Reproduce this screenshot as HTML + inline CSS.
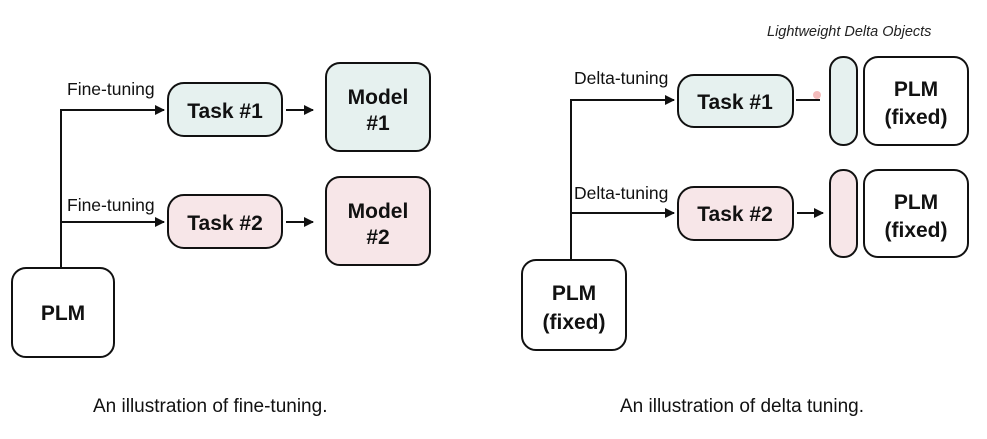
<!DOCTYPE html>
<html><head><style>
body{margin:0;background:#fff;}
svg{display:block;font-family:"Liberation Sans",Arial,sans-serif;}
.b{font-weight:bold;font-size:21px;fill:#111;text-anchor:middle}
.l{font-size:17.5px;fill:#111}
</style></head><body>
<svg width="987" height="439" viewBox="0 0 987 439">
<defs><marker id="a" markerWidth="10" markerHeight="10" refX="9" refY="5" orient="auto" markerUnits="userSpaceOnUse"><path d="M0,0 L10,5 L0,10z" fill="#111"/></marker></defs>
<g stroke="#111" stroke-width="2" fill="none">
<rect x="168" y="83" width="114" height="53" rx="16" fill="#e6f1ef"/>
<rect x="326" y="63" width="104" height="88" rx="14" fill="#e6f1ef"/>
<rect x="168" y="195" width="114" height="53" rx="16" fill="#f7e6e8"/>
<rect x="326" y="177" width="104" height="88" rx="14" fill="#f7e6e8"/>
<rect x="12" y="268" width="102" height="89" rx="14" fill="#fff"/>
<path d="M61,268 V110 H164" marker-end="url(#a)"/>
<path d="M61,222 H164" marker-end="url(#a)"/>
<path d="M286,110 H313" marker-end="url(#a)"/>
<path d="M286,222 H313" marker-end="url(#a)"/>
<rect x="678" y="75" width="115" height="52" rx="16" fill="#e6f1ef"/>
<rect x="830" y="57" width="27" height="88" rx="13" fill="#e6f1ef"/>
<rect x="864" y="57" width="104" height="88" rx="14" fill="#fff"/>
<rect x="678" y="187" width="115" height="53" rx="16" fill="#f7e6e8"/>
<rect x="830" y="170" width="27" height="87" rx="13" fill="#f7e6e8"/>
<rect x="864" y="170" width="104" height="87" rx="14" fill="#fff"/>
<rect x="522" y="260" width="104" height="90" rx="14" fill="#fff"/>
<path d="M571,260 V100 H674" marker-end="url(#a)"/>
<path d="M571,213 H674" marker-end="url(#a)"/>
<path d="M796,100 H820"/>
<path d="M797,213 H823" marker-end="url(#a)"/>
</g>
<circle cx="817" cy="95" r="4" fill="#f0a0a0" opacity="0.7"/>
<text x="225" y="118" class="b">Task #1</text>
<text x="378" y="104" class="b">Model</text><text x="378" y="130" class="b">#1</text>
<text x="225" y="230" class="b">Task #2</text>
<text x="378" y="218" class="b">Model</text><text x="378" y="244" class="b">#2</text>
<text x="63" y="320" class="b">PLM</text>
<text x="67" y="95" class="l">Fine-tuning</text>
<text x="67" y="211" class="l">Fine-tuning</text>
<text x="735" y="109" class="b">Task #1</text>
<text x="735" y="221" class="b">Task #2</text>
<text x="916" y="96" class="b">PLM</text><text x="916" y="124" class="b">(fixed)</text>
<text x="916" y="209" class="b">PLM</text><text x="916" y="237" class="b">(fixed)</text>
<text x="574" y="300" class="b">PLM</text><text x="574" y="329" class="b">(fixed)</text>
<text x="574" y="84" class="l">Delta-tuning</text>
<text x="574" y="199" class="l">Delta-tuning</text>
<text x="767" y="36" font-size="14.5" font-style="italic" fill="#222">Lightweight Delta Objects</text>
<text x="93" y="412" font-size="19" fill="#111">An illustration of fine-tuning.</text>
<text x="620" y="412" font-size="19" fill="#111">An illustration of delta tuning.</text>
</svg>
</body></html>
